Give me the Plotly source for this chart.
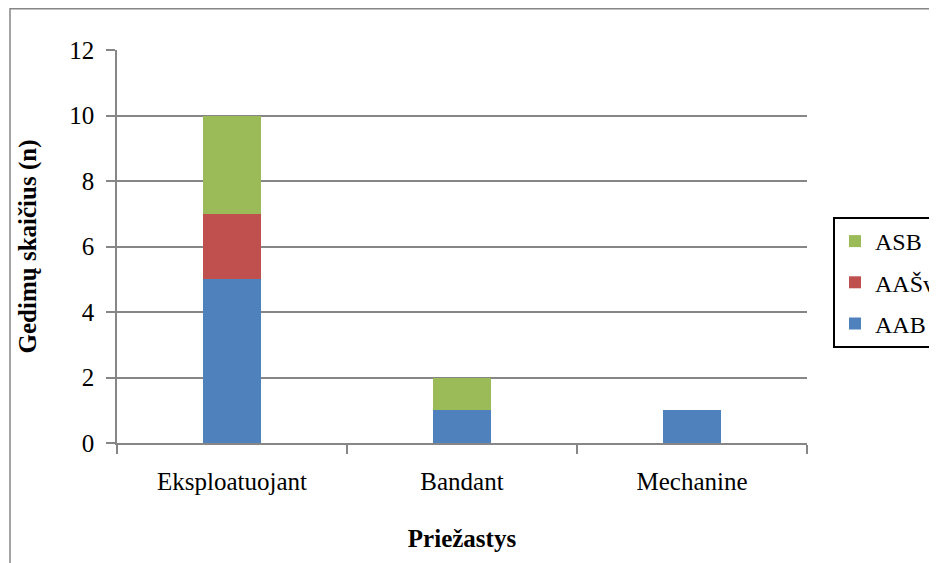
import plotly.graph_objects as go

categories = ["Eksploatuojant", "Bandant", "Mechanine"]
aab = [5, 1, 1]
aasv = [2, 0, 0]
asb = [3, 1, 0]
series_names = ["AAB", "AAŠv", "ASB"]
colors = ["#4F81BD", "#C0504D", "#9BBB59"]
legend_ranks = [3, 2, 1]
y_ticks = [0, 2, 4, 6, 8, 10, 12]

FONT = "Liberation Serif"
FS = 25

fig = go.Figure()
for i, (name, vals) in enumerate(zip(series_names, [aab, aasv, asb])):
    fig.add_trace(go.Bar(
        x=categories, y=vals, name=name, marker_color=colors[i],
        marker_line_width=0, width=0.25, legendgroup=name,
        legendrank=legend_ranks[i],
    ))

# page has an 8px body margin: figure coords = screen coords - 8
OFF = 8
W, H = 937 - OFF, 563 - OFF
L, T = 117 - OFF, 50 - OFF
R = W - (807 - OFF)
B = H - (443 - OFF)
pw, ph = W - L - R, H - T - B

def px_x(sx):
    return (sx - OFF - L) / pw

def px_y(sy):
    return (H - B - (sy - OFF)) / ph

fig.update_layout(
    width=W, height=H, barmode="stack",
    margin=dict(l=L, r=R, t=T, b=B, autoexpand=False),
    paper_bgcolor="white", plot_bgcolor="white",
    font=dict(family=FONT, size=FS, color="black"),
    showlegend=True,
    legend=dict(
        x=px_x(833), y=px_y(217), xanchor="left", yanchor="top",
        bordercolor="black", borderwidth=2, bgcolor="white",
        traceorder="grouped", tracegroupgap=7,
        font=dict(family=FONT, size=FS - 1, color="black"),
    ),
)
fig.update_xaxes(
    showline=True, linecolor="#868686", linewidth=1.5,
    ticks="outside", tickson="boundaries", ticklen=9, tickcolor="#868686", tickwidth=1.5,
    tickfont=dict(family=FONT, size=FS, color="black"),
    ticklabelstandoff=15,
    title=dict(text="<b>Priežastys</b>", font=dict(family=FONT, size=FS, color="black"), standoff=36),
    showgrid=False,
)
fig.update_yaxes(
    range=[0, 12], tickvals=y_ticks,
    showline=True, linecolor="#868686", linewidth=1.5,
    ticks="outside", ticklen=9, tickcolor="#868686", tickwidth=1.5,
    ticklabelstandoff=7,
    showgrid=True, gridcolor="#868686", gridwidth=1.5,
    tickfont=dict(family=FONT, size=FS, color="black"),
    title=dict(text="<b>Gedimų skaičius (n)</b>", font=dict(family=FONT, size=FS, color="black"), standoff=26),
    zeroline=False,
)
# outer chart border
fig.add_shape(type="rect", xref="paper", yref="paper",
              x0=px_x(10), x1=px_x(945),
              y0=px_y(570), y1=px_y(8.8),
              line=dict(color="#868686", width=1.5), layer="below")

fig.write_html("out.html")
